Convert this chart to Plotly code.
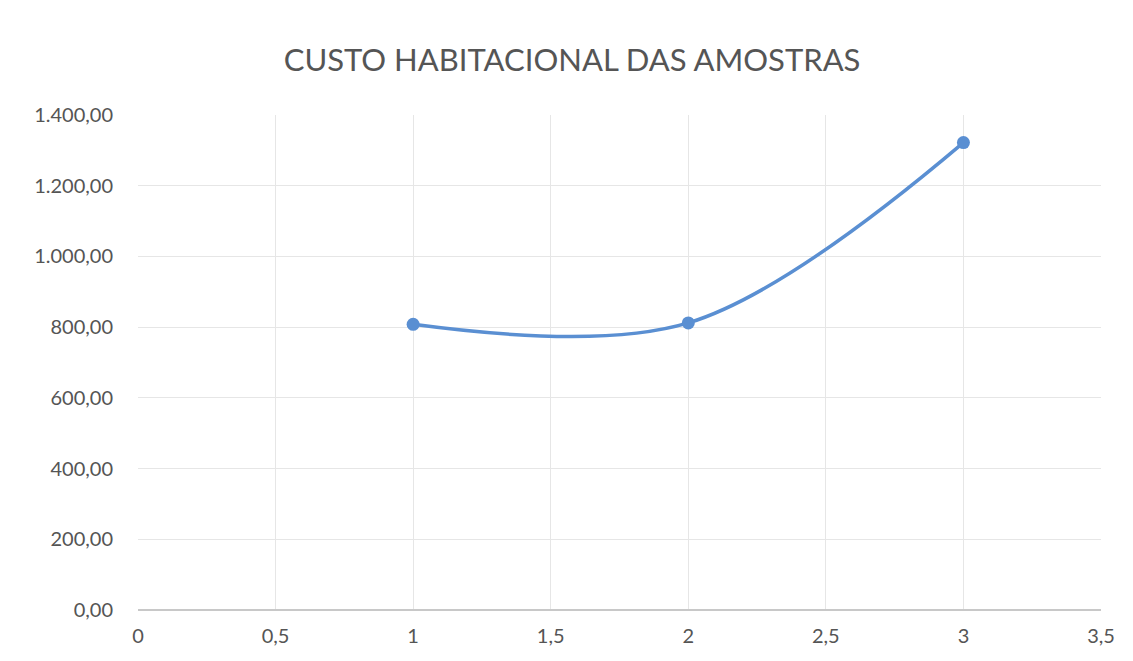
import plotly.graph_objects as go

x_vals = [1, 2, 3]
y_vals = [808, 812, 1322]
x_ticks = [0, 0.5, 1, 1.5, 2, 2.5, 3, 3.5]
x_tick_labels = ["0", "0,5", "1", "1,5", "2", "2,5", "3", "3,5"]
y_ticks = [0, 200, 400, 600, 800, 1000, 1200, 1400]
y_tick_labels = ["0,00", "200,00", "400,00", "600,00", "800,00", "1.000,00", "1.200,00", "1.400,00"]

FONT = "Lato, 'Open Sans', sans-serif"

fig = go.Figure()
fig.add_trace(go.Scatter(
    x=x_vals, y=y_vals, mode="lines+markers",
    line=dict(color="#5A8FD2", width=3.5, shape="spline", smoothing=1.0),
    marker=dict(color="#5A8FD2", size=13),
    showlegend=False,
))

fig.update_layout(
    width=1117, height=645,
    margin=dict(l=130, r=24, t=107, b=43),
    paper_bgcolor="white", plot_bgcolor="white",
    title=dict(text="CUSTO HABITACIONAL DAS AMOSTRAS", x=0.505, xanchor="center",
               y=0.919, yanchor="middle",
               font=dict(family=FONT, size=31, color="#555555")),
    font=dict(family=FONT, size=20, color="#555555"),
)
fig.update_xaxes(range=[0, 3.5], tickvals=x_ticks, ticktext=x_tick_labels,
                 showgrid=True, gridcolor="#E6E6E6", gridwidth=1,
                 zeroline=False, showline=False, ticks="", ticklabelstandoff=12,
                 automargin=False,
                 tickfont=dict(size=20, color="#555555"))
fig.update_yaxes(range=[0, 1400], tickvals=y_ticks, ticktext=y_tick_labels,
                 showgrid=True, gridcolor="#E6E6E6", gridwidth=1,
                 zeroline=True, zerolinecolor="#C8C8C8", zerolinewidth=1.5,
                 showline=False, ticks="", ticklabelstandoff=24,
                 automargin=False,
                 tickfont=dict(size=20, color="#555555"))

fig.write_html("out.html")
